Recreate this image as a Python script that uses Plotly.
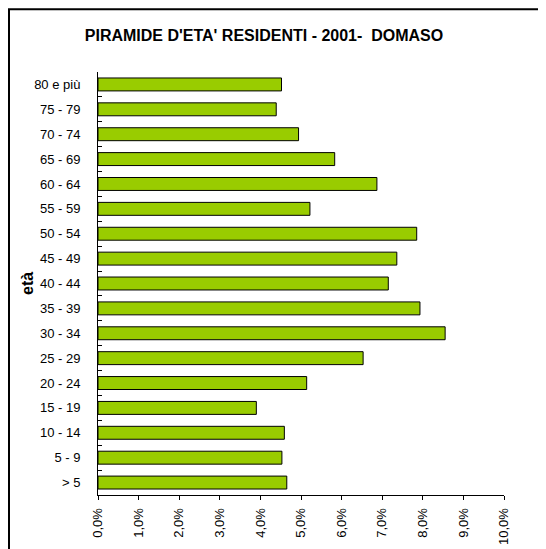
import plotly.graph_objects as go

# Data
age_classes = ["> 5", "5 - 9", "10 - 14", "15 - 19", "20 - 24", "25 - 29", "30 - 34",
               "35 - 39", "40 - 44", "45 - 49", "50 - 54", "55 - 59", "60 - 64",
               "65 - 69", "70 - 74", "75 - 79", "80 e più"]
share_pct = [4.65, 4.53, 4.59, 3.90, 5.14, 6.53, 8.55, 7.93, 7.15, 7.36, 7.85,
             5.22, 6.87, 5.83, 4.94, 4.39, 4.52]
x_ticks = [0.00, 0.01, 0.02, 0.03, 0.04, 0.05, 0.06, 0.07, 0.08, 0.09, 0.10]

W, H = 546, 549
# page is offset by the 8px body margin; positions below are figure coordinates
L, R, T, B = 90, 50, 64, 60

fig = go.Figure(go.Bar(
    y=age_classes,
    x=[v / 100 for v in share_pct],
    orientation="h",
    marker=dict(color="#99CC00", line=dict(color="#000000", width=1)),
))

pw = W - L - R
ph = H - T - B


def px2x(p):
    return (p - L) / pw


def py2y(p):
    return (H - B - p) / ph


fig.update_layout(
    width=W, height=H,
    margin=dict(l=L, r=R, t=T, b=B),
    paper_bgcolor="white", plot_bgcolor="white",
    separators=",.",
    bargap=0.48,
    showlegend=False,
    font=dict(family="Liberation Sans, Arial, sans-serif", size=13, color="#000000"),
    title=dict(text="<b>PIRAMIDE D'ETA' RESIDENTI - 2001-  DOMASO</b>",
               x=px2x(256), xref="paper", xanchor="center",
               y=1 - 27 / H, yanchor="middle",
               font=dict(size=16, color="#000000")),
    xaxis=dict(range=[0, 0.10], tickvals=x_ticks, tickformat=".1%",
               tickangle=-90, showgrid=False, zeroline=False,
               showline=True, linecolor="#000000", linewidth=1,
               ticks="outside", ticklen=4, tickcolor="#000000",
               ticklabelstandoff=3,
               tickfont=dict(size=13), fixedrange=True),
    yaxis=dict(categoryorder="array", categoryarray=age_classes,
               showgrid=False, zeroline=False,
               showline=True, linecolor="#000000", linewidth=1,
               ticks="inside", ticklen=4, tickcolor="#000000",
               tickson="boundaries", ticklabelstandoff=14,
               tickfont=dict(size=13), fixedrange=True),
    annotations=[dict(text="<b>età</b>", textangle=-90, showarrow=False,
                      xref="paper", yref="paper",
                      x=px2x(20), y=py2y(277), xanchor="center", yanchor="middle",
                      font=dict(size=16, color="#000000"))],
    shapes=[dict(type="rect", xref="paper", yref="paper",
                 x0=px2x(1), x1=px2x(580), y0=py2y(580), y1=py2y(1),
                 line=dict(color="#000000", width=2), fillcolor="rgba(0,0,0,0)",
                 layer="below")],
)

fig.write_html("out.html")
